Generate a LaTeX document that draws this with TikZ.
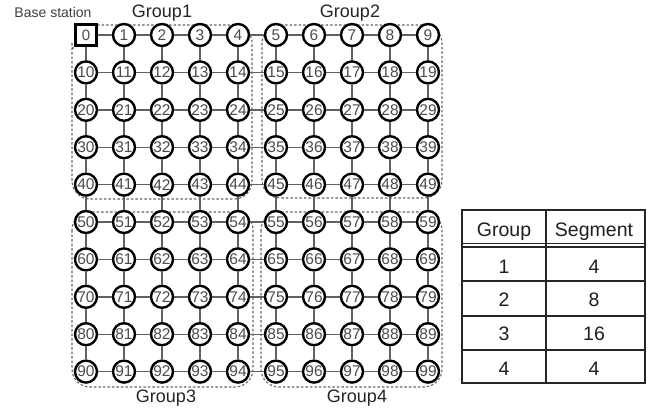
\documentclass[tikz,border=0pt]{standalone}
\usepackage{fontspec}
\setmainfont{Liberation Sans}
\begin{document}
\begin{tikzpicture}[x=1pt,y=-1pt,
  nd/.style={circle,draw=black,line width=2.4pt,fill=white,minimum size=22pt,inner sep=0pt,
             font=\fontsize{15.5}{15.5}\selectfont,text=black!70},
  bsn/.style={rectangle,draw=black,line width=2.6pt,fill=white,minimum width=21pt,minimum height=21pt,inner sep=0pt,
             font=\fontsize{15}{15}\selectfont,text=black!70},
  ln/.style={draw=black!62,line width=1.4pt},
  grp/.style={draw=black!60,line width=1.1pt,dash pattern=on 2.5pt off 2pt,rounded corners=18pt},
  lbl/.style={anchor=base,inner sep=0pt,font=\fontsize{18}{18}\selectfont,text=black!85},
  tx/.style={anchor=base,inner sep=0pt,font=\fontsize{19.5}{19.5}\selectfont,text=black!88},
  tline/.style={draw=black!85,line width=1.1pt}]
\useasboundingbox[fill=white] (0,0) rectangle (664,412);

% group outlines
\draw[grp] (97,25) -- (252,25) -- (252,199) -- (72,199) -- (72,60) [sharp corners] .. controls (72,50) .. (80,44);
\draw[grp] (262,25) rectangle (442,198);
\draw[grp] (72,212) rectangle (253,387);
\draw[grp] (261,212) rectangle (442,387);

% nodes
\foreach \i in {0,...,9}{\foreach \j in {0,...,9}{
  \pgfmathtruncatemacro\n{10*\i+\j}
  \ifnum\n>0 \node[nd] (n\n) at ({86+38*\j},{35+37.4*\i}) {\n};\fi
}}
\node[bsn] (n0) at (86,35) {0};

% edges
\foreach \i in {0,...,9}{\foreach \j in {0,...,8}{
  \pgfmathtruncatemacro\a{10*\i+\j}
  \pgfmathtruncatemacro\b{\a+1}
  \draw[ln] (n\a) -- (n\b);
}}
\foreach \i in {0,...,8}{\foreach \j in {0,...,9}{
  \pgfmathtruncatemacro\a{10*\i+\j}
  \pgfmathtruncatemacro\b{\a+10}
  \draw[ln] (n\a) -- (n\b);
}}

% labels
\node[anchor=base,inner sep=0pt,font=\fontsize{14}{14}\selectfont,text=black!75] (bs) at (53,18) {Base station};
\node[lbl] (g1) at (162,17.5) {Group1};
\node[lbl] (g2) at (350,17.5) {Group2};
\node[lbl] (g3) at (166,402) {Group3};
\node[lbl] (g4) at (357,402) {Group4};

% table
\draw[draw=black!85,line width=2pt] (462,210) rectangle (645,383);
\draw[tline] (546,210) -- (546,383);
\draw[tline] (462,243.5) -- (645,243.5);
\draw[tline] (462,247) -- (645,247);
\draw[tline] (462,281) -- (645,281);
\draw[tline] (462,316) -- (645,316);
\draw[tline] (462,350) -- (645,350);
\node[tx] (th1) at (504,236) {Group};
\node[tx] (th2) at (594,236) {Segment};
\node[tx] (r1a) at (504,273) {1};
\node[tx] (r1b) at (594,273) {4};
\node[tx] (r2a) at (504,306) {2};
\node[tx] (r2b) at (594,306) {8};
\node[tx] (r3a) at (504,340) {3};
\node[tx] (r3b) at (594,340) {16};
\node[tx] (r4a) at (504,375) {4};
\node[tx] (r4b) at (594,375) {4};
\end{tikzpicture}
\end{document}
